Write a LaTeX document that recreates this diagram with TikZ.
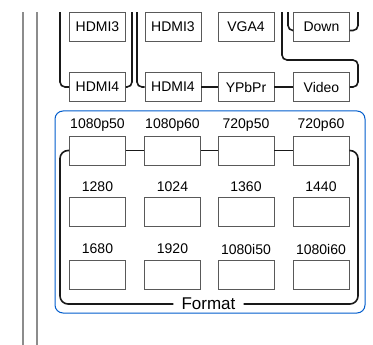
\documentclass[tikz,border=0pt]{standalone}
\usepackage{fontspec}
\setmainfont{Liberation Sans}
\begin{document}
\begin{tikzpicture}[x=1pt,y=-1pt,
  box/.style={draw=black!65,line width=0.9pt,minimum width=56pt,minimum height=29pt,inner sep=0pt,font=\fontsize{14}{16}\selectfont},
  lbl/.style={inner sep=0pt,font=\fontsize{14}{16}\selectfont},
  br/.style={draw=black!90,line width=1.6pt,rounded corners=5pt},
  rail/.style={draw=black!45,line width=1.2pt},
  panel/.style={draw=blue!55!cyan!80!black,line width=1pt,rounded corners=8pt}]
\useasboundingbox (0,0) rectangle (373,345);
\begin{scope}
\clip (0,13) rectangle (373,345);
% left rails
\coordinate (r1t) at (23,0); \coordinate (r1b) at (23,345);
\coordinate (r2t) at (37,0); \coordinate (r2b) at (37,345);
\draw[rail] (r1t) -- (r1b);
\draw[rail] (r2t) -- (r2b);
% top boxes
\node[box] (a3) at (97.5,26.5) {HDMI3};
\node[box] (b3) at (173,26.5) {HDMI3};
\node[box] (c3) at (246,26.5) {VGA4};
\node[box] (d3) at (321.5,26.5) {Down};
\node[box] (a4) at (97.5,87) {HDMI4};
\node[box] (b4) at (173,87) {HDMI4};
\node[box] (c4) at (246,87) {YPbPr};
\node[box] (d4) at (321.5,87) {Video};
% top connectors
\coordinate (ta) at (60,0);
\coordinate (tb) at (132,0);
\coordinate (tc) at (137,0);
\coordinate (td) at (288,0);
\coordinate (te) at (358,0);
\coordinate (tf) at (282,0);
\coordinate (vturn) at (358,60);
\draw[br] (a4.west) -| (ta);
\draw[br] (a4.east) -| (tb);
\draw[br] (b4.west) -| (tc);
\draw[br] (b4.east) -- (c4.west);
\draw[br] (c4.east) -- (d4.west);
\draw[br] (d4.east) -| (vturn) -| (tf);
\draw[br] ([yshift=-4pt]d3.west) -| (td);
\draw[br] ([yshift=-4pt]d3.east) -| (te);
\end{scope}
% format panel
\draw[panel] (55,111) rectangle (365,313);
\foreach \n/\x/\t in {1/97.5/1080p50,2/172.5/1080p60,3/246/720p50,4/321/720p60}{
  \node[box] (f\n) at (\x,150.5) {};
  \node[lbl] (fl\n) at (\x,125) {\t};
}
\foreach \n/\x/\t in {1/97.5/1280,2/172.5/1024,3/246/1360,4/321/1440}{
  \node[box] (g\n) at (\x,212) {};
  \node[lbl] (gl\n) at (\x,187) {\t};
}
\foreach \n/\x/\t in {1/97.5/1680,2/172.5/1920,3/246/1080i50,4/321/1080i60}{
  \node[box] (h\n) at (\x,275) {};
  \node[lbl] (hl\n) at (\x,249) {\t};
}
\node[inner sep=0pt,font=\fontsize{17}{19}\selectfont] (fmt) at (208.5,304) {Format};
\coordinate (fbl) at (60,304);
\coordinate (fbr) at (358,304);
\draw[br,rounded corners=8pt] (f1.west) -| (fbl) -- ([xshift=-8pt]fmt.west);
\draw[br,rounded corners=8pt] (f4.east) -| (fbr) -- ([xshift=8pt]fmt.east);
\draw[br] (f1.east) -- (f2.west);
\draw[br] (f2.east) -- (f3.west);
\draw[br] (f3.east) -- (f4.west);
\end{tikzpicture}
\end{document}
